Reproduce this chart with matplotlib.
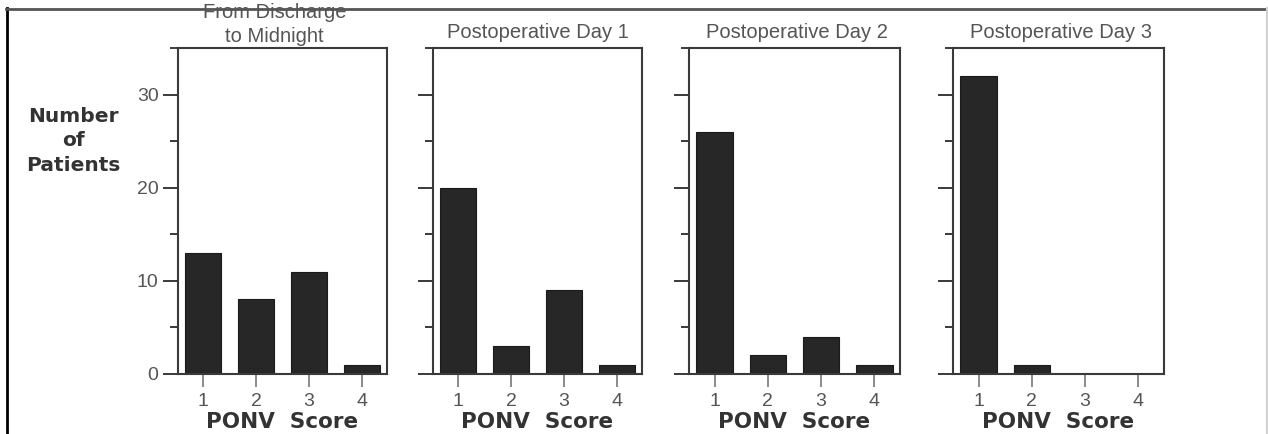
import matplotlib
matplotlib.use("Agg")
import matplotlib.pyplot as plt
from matplotlib.lines import Line2D

# ---- data ----
scores = [1, 2, 3, 4]
score_labels = ["1", "2", "3", "4"]
panel_titles = ["From Discharge\nto Midnight", "Postoperative Day 1",
                "Postoperative Day 2", "Postoperative Day 3"]
discharge_to_midnight = [13, 8, 11, 1]
day1 = [20, 3, 9, 1]
day2 = [26, 2, 4, 1]
day3 = [32, 1, 0, 0]
series = [discharge_to_midnight, day1, day2, day3]
y_major = [0, 10, 20, 30]
y_minor = [5, 15, 25, 35]

W, H = 1268, 434
fig = plt.figure(figsize=(W / 100, H / 100), dpi=100)
fig.patch.set_facecolor("white")
plt.rcParams["font.family"] = ["Liberation Sans", "DejaVu Sans"]

# panel pixel extents (left, right)
panels_px = [(178, 387), (433, 642), (689, 900), (953, 1164)]
top_px, bot_px = 48, 374

text_gray = "#555555"
label_col = "#333333"
spine_col = "#3a3a3a"
bar_col = "#272727"

for i, (l, r) in enumerate(panels_px):
    ax = fig.add_axes([l / W, 1 - bot_px / H, (r - l) / W, (bot_px - top_px) / H])
    ax.bar(scores, series[i], width=0.68, color=bar_col, edgecolor="#1a1a1a", linewidth=0.8)
    ax.set_xlim(0.52, 4.48)
    ax.set_ylim(0, 35)
    ax.set_xticks(scores)
    ax.set_xticklabels(score_labels)
    ax.set_yticks(y_major)
    ax.set_yticks(y_minor, minor=True)
    if i == 0:
        ax.set_yticklabels([str(v) for v in y_major])
    else:
        ax.set_yticklabels([])
    ax.tick_params(axis="y", which="major", length=11, width=1.4, color=spine_col,
                   labelsize=14, labelcolor=text_gray, pad=3)
    ax.tick_params(axis="y", which="minor", length=6, width=1.4, color=spine_col)
    ax.tick_params(axis="x", which="major", length=9, width=1.2, color="#777777",
                   labelsize=14, labelcolor=text_gray, pad=5)
    for s in ax.spines.values():
        s.set_color(spine_col)
        s.set_linewidth(1.5)
    cx = (l + r) / 2
    if i == 0:
        fig.text((cx - 8) / W, 1 - 37 / H, "to Midnight", ha="center", va="center",
                 fontsize=14.5, color=text_gray)
        fig.text((cx - 8) / W, 1 - 12 / H, "From Discharge", ha="center", va="center",
                 fontsize=14.5, color=text_gray)
    else:
        fig.text((cx + (2 if i > 1 else 0)) / W, 1 - 32 / H, panel_titles[i],
                 ha="center", va="center", fontsize=14.5, color=text_gray)
    fig.text(cx / W, 1 - 422 / H, "PONV  Score", ha="center", va="center",
             fontsize=15.5, fontweight="bold", color=label_col, family="DejaVu Sans")

for txt, yc in [("Number", 117), ("of", 141), ("Patients", 165)]:
    fig.text(73 / W, 1 - yc / H, txt, ha="center", va="center",
             fontsize=14.5, fontweight="bold", color=label_col, family="DejaVu Sans")

# outer frame
fig.add_artist(Line2D([6.5 / W, 6.5 / W], [0, 1 - 8 / H], transform=fig.transFigure,
                      color="black", lw=2))
fig.add_artist(Line2D([6 / W, 1], [1 - 8.5 / H, 1 - 8.5 / H], transform=fig.transFigure,
                      color="#555555", lw=2))
fig.add_artist(Line2D([1266.5 / W, 1266.5 / W], [0, 1 - 8 / H], transform=fig.transFigure,
                      color="#d0d0d0", lw=1.5))

fig.savefig("out.png", dpi=100)
